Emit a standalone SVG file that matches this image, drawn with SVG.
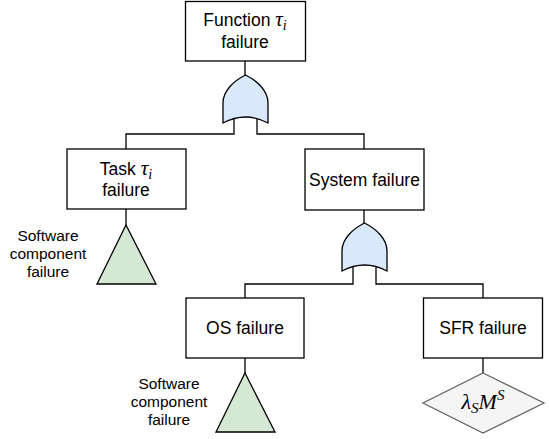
<svg xmlns="http://www.w3.org/2000/svg" width="549" height="439" viewBox="0 0 549 439">
  <style>
    .box { fill: #ffffff; stroke: #000000; stroke-width: 1.3; }
    .gate { fill: #dae8fc; stroke: #000000; stroke-width: 1.3; }
    .tri { fill: #d5e8d4; stroke: #000000; stroke-width: 1.3; }
    .dia { fill: #f5f5f5; stroke: #666666; stroke-width: 1.3; }
    .wire { fill: none; stroke: #000000; stroke-width: 1.3; }
    .lbl { font-family: "Liberation Sans", Arial, sans-serif; font-size: 17.5px; fill: #000000; text-anchor: middle; }
    .small { font-family: "Liberation Sans", Arial, sans-serif; font-size: 15.5px; fill: #000000; text-anchor: middle; }
    .math { font-family: "Liberation Serif", "Times New Roman", serif; font-style: italic; }
    .formula { font-family: "Liberation Serif", "Times New Roman", serif; font-style: italic; font-size: 22px; fill: #000000; text-anchor: middle; }
  </style>
  <defs>
    <!-- OR gate pointing up, origin at the output tip -->
    <path id="orGate" d="M0,0 C12,6 22.5,16 22.5,28 L22.5,48 Q0,36 -22.5,48 L-22.5,28 C-22.5,16 -12,6 0,0 Z"/>
  </defs>

  <g id="connectors">
    <path class="wire" d="M245,61 V75"/>
    <path class="wire" d="M234,119 V134 H126 V149"/>
    <path class="wire" d="M257,119 V134 H364 V149"/>
    <path class="wire" d="M126,209 V225"/>
    <path class="wire" d="M364,210 V223"/>
    <path class="wire" d="M353,266 V284 H245 V298"/>
    <path class="wire" d="M376,266 V284 H483 V298"/>
    <path class="wire" d="M245,358 V373"/>
    <path class="wire" d="M483,358 V373"/>
  </g>

  <g id="function-failure">
    <rect class="box" x="185.5" y="1.5" width="120" height="59.5"/>
    <text class="lbl" x="245" y="26">Function <tspan class="math" font-size="21">τ</tspan><tspan class="math" font-size="14" dy="4">i</tspan></text>
    <text class="lbl" x="245" y="48">failure</text>
  </g>

  <g id="gate-top">
    <use href="#orGate" class="gate" x="245.5" y="75"/>
  </g>

  <g id="task-failure">
    <rect class="box" x="67" y="149" width="119" height="60"/>
    <text class="lbl" x="126" y="175">Task <tspan class="math" font-size="21">τ</tspan><tspan class="math" font-size="14" dy="4">i</tspan></text>
    <text class="lbl" x="126" y="196">failure</text>
  </g>

  <g id="system-failure">
    <rect class="box" x="305" y="149" width="119" height="61"/>
    <text class="lbl" x="364.5" y="185.5">System failure</text>
  </g>

  <g id="sw-component-1">
    <polygon class="tri" points="126,225 156,284 97,284"/>
    <text class="small" x="48" y="241">Software</text>
    <text class="small" x="48" y="259">component</text>
    <text class="small" x="48" y="277">failure</text>
  </g>

  <g id="gate-system">
    <use href="#orGate" class="gate" x="364.5" y="223"/>
  </g>

  <g id="os-failure">
    <rect class="box" x="186" y="298" width="118" height="60"/>
    <text class="lbl" x="245" y="334">OS failure</text>
  </g>

  <g id="sfr-failure">
    <rect class="box" x="423.5" y="298" width="119" height="60"/>
    <text class="lbl" x="483" y="334">SFR failure</text>
  </g>

  <g id="sw-component-2">
    <polygon class="tri" points="245,373 275,432 216,432"/>
    <text class="small" x="169" y="389">Software</text>
    <text class="small" x="169" y="407">component</text>
    <text class="small" x="169" y="425">failure</text>
  </g>

  <g id="sfr-rate">
    <polygon class="dia" points="483,373 544,403 483,433 423,403"/>
    <text class="formula" x="483" y="409">λ<tspan font-size="15" dy="4">S</tspan><tspan dy="-4">M</tspan><tspan font-size="15" dy="-9">S</tspan></text>
  </g>
</svg>
